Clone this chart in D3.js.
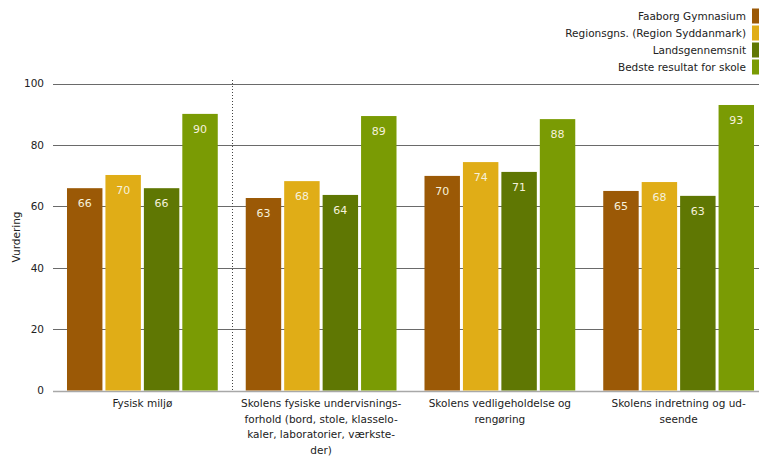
<!DOCTYPE html>
<html>
<head>
<meta charset="utf-8">
<script src="https://cdn.jsdelivr.net/npm/d3@7"></script>
<style>
  html, body { margin: 0; padding: 0; background: #fff; overflow: hidden; }
  svg { display: block; font-family: "DejaVu Sans", Verdana, sans-serif; }
</style>
</head>
<body>
<svg id="chart" width="759" height="456"></svg>
<script>
// ---- data ----
const categories = [
  ["Fysisk miljø"],
  ["Skolens fysiske undervisnings-", "forhold (bord, stole, klasselo-", "kaler, laboratorier, værkste-", "der)"],
  ["Skolens vedligeholdelse og", "rengøring"],
  ["Skolens indretning og ud-", "seende"]
];
const seriesNames = ["Faaborg Gymnasium", "Regionsgns. (Region Syddanmark)", "Landsgennemsnit", "Bedste resultat for skole"];
const faaborg   = [65.9, 62.7, 69.9, 65.0];
const region    = [70.2, 68.2, 74.4, 67.9];
const lands     = [65.9, 63.7, 71.2, 63.4];
const bedste    = [90.1, 89.4, 88.4, 93.0];
const yTicks    = [0, 20, 40, 60, 80, 100];
const yTitle    = "Vurdering";
const colors    = ["#9b5906", "#e0ad17", "#5f7703", "#7a9b04"];

const seriesValues = [faaborg, region, lands, bedste];

// ---- layout ----
const svg = d3.select("#chart");
const plotLeft = 53, plotRight = 768, plotTop = 83.5, plotBottom = 390.5;

const x0 = d3.scaleBand().domain(d3.range(categories.length)).range([plotLeft, plotRight]).paddingInner(0).paddingOuter(0);
const x1 = d3.scaleBand().domain(d3.range(seriesNames.length)).range([0, x0.bandwidth()]).paddingInner(0.078).paddingOuter(0.364);
const y = d3.scaleLinear().domain([0, 100]).range([plotBottom, plotTop]);

// gridlines
const grid = svg.append("g");
grid.selectAll("line").data(yTicks).join("line")
  .attr("x1", plotLeft).attr("x2", 759)
  .attr("y1", d => Math.round(y(d)) + 0.5).attr("y2", d => Math.round(y(d)) + 0.5)
  .attr("stroke", d => d === 0 ? "#a8a8a8" : "#6a6a6a")
  .attr("stroke-width", d => d === 0 ? 1.5 : 1);

// y axis labels
const yAxis = d3.axisLeft(y).tickValues(yTicks).tickSize(0).tickPadding(9);
const yg = svg.append("g").attr("transform", `translate(${plotLeft},0)`).call(yAxis);
yg.select(".domain").remove();
yg.selectAll("text").attr("font-size", 10.5).attr("fill", "#222").attr("font-family", "DejaVu Sans");

// y title
svg.append("text")
  .attr("transform", `translate(20,${(plotTop + plotBottom) / 2}) rotate(-90)`)
  .attr("text-anchor", "middle")
  .attr("font-size", 10.5).attr("fill", "#222")
  .text(yTitle);

// dotted separator after first group
svg.append("line")
  .attr("x1", Math.round(x0(1)) + 0.5).attr("x2", Math.round(x0(1)) + 0.5)
  .attr("y1", 80).attr("y2", plotBottom)
  .attr("stroke", "#444").attr("stroke-width", 1).attr("stroke-dasharray", "1,2");

// bars
const groups = svg.append("g").selectAll("g").data(categories).join("g")
  .attr("transform", (d, i) => `translate(${x0(i)},0)`);

groups.each(function(cat, ci) {
  const g = d3.select(this);
  const vals = seriesValues.map((s, si) => ({ si, v: s[ci] }));
  g.selectAll("rect").data(vals).join("rect")
    .attr("x", d => x1(d.si))
    .attr("width", x1.bandwidth())
    .attr("y", d => y(d.v))
    .attr("height", d => y(0) - y(d.v))
    .attr("fill", d => colors[d.si]);
  g.selectAll("text.val").data(vals).join("text")
    .attr("class", "val")
    .attr("x", d => x1(d.si) + x1.bandwidth() / 2)
    .attr("y", d => y(d.v) + 19)
    .attr("text-anchor", "middle")
    .attr("font-size", 11)
    .attr("fill", "#f6f1dc")
    .text(d => Math.round(d.v));
});

// category labels
const catLabels = svg.append("g").selectAll("text").data(categories).join("text")
  .attr("x", (d, i) => x0(i) + x0.bandwidth() / 2)
  .attr("y", 407)
  .attr("text-anchor", "middle")
  .attr("font-size", 10.5)
  .attr("fill", "#222");
catLabels.each(function(lines, i) {
  d3.select(this).selectAll("tspan").data(lines).join("tspan")
    .attr("x", x0(i) + x0.bandwidth() / 2)
    .attr("dy", (d, j) => j === 0 ? 0 : 15.5)
    .text(d => d);
});

// legend
const legend = svg.append("g").selectAll("g").data(seriesNames).join("g")
  .attr("transform", (d, i) => `translate(0,${16 + i * 17})`);
legend.append("rect")
  .attr("x", 752).attr("y", -7.5).attr("width", 10).attr("height", 15)
  .attr("fill", (d, i) => colors[i]);
legend.append("text")
  .attr("x", 746).attr("y", 4)
  .attr("text-anchor", "end")
  .attr("font-size", 10.5).attr("fill", "#222")
  .text(d => d);
</script>
</body>
</html>
